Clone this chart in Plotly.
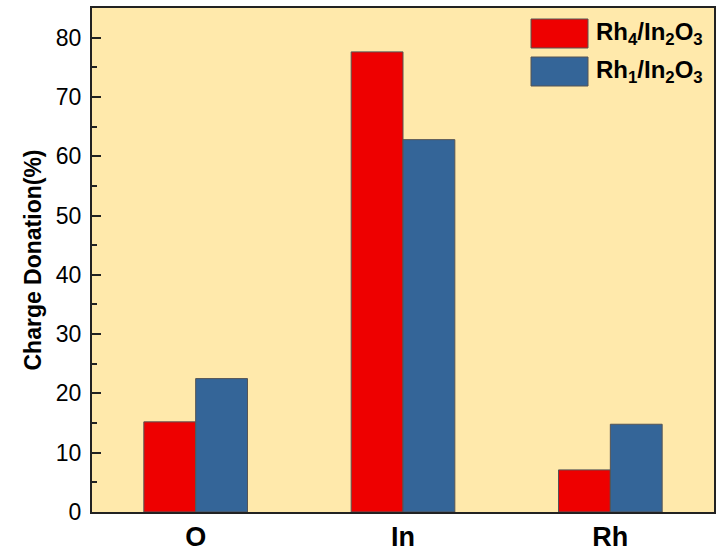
import plotly.graph_objects as go

categories = ["O", "In", "Rh"]
rh4_values = [15.2, 77.6, 7.1]
rh1_values = [22.5, 62.8, 14.8]
series_names = ["Rh<sub>4</sub>/In<sub>2</sub>O<sub>3</sub>", "Rh<sub>1</sub>/In<sub>2</sub>O<sub>3</sub>"]
colors = ["#EE0000", "#346598"]

fig = go.Figure()
for name, vals, c in zip(series_names, [rh4_values, rh1_values], colors):
    fig.add_trace(go.Bar(x=categories, y=vals, name=name, marker_color=c,
                         marker_line=dict(color="#555555", width=1), showlegend=False))

# manual legend (paper coords: plot area x 92..714, y 8..512)
for i, (name, c) in enumerate(zip(series_names, colors)):
    top = 19 + i * 38
    y1 = (512 - top) / 504
    y0 = (512 - top - 29) / 504
    fig.add_shape(type="rect", xref="paper", yref="paper",
                  x0=(531 - 92) / 622, x1=(588 - 92) / 622, y0=y0, y1=y1,
                  fillcolor=c, line=dict(color="#555555", width=1))
    fig.add_annotation(xref="paper", yref="paper", x=(594 - 92) / 622, y=(y0 + y1) / 2,
                       text="<b>" + name + "</b>", showarrow=False,
                       xanchor="left", yanchor="middle",
                       font=dict(size=24, color="black", family="Liberation Sans, Arial"))

fig.update_layout(
    width=716, height=559,
    margin=dict(l=92, r=2, t=8, b=47, autoexpand=False),
    paper_bgcolor="white", plot_bgcolor="#FFE9AB",
    barmode="group", bargap=0.5, bargroupgap=0,
    font=dict(family="Liberation Sans, Arial", color="black"),
)
fig.update_xaxes(range=[-0.5, 2.5], showline=True, linecolor="#222222", linewidth=2,
                 mirror=True, ticks="", showgrid=False, automargin=False,
                 tickfont=dict(size=27, family="Liberation Sans, Arial"),
                 ticktext=["<b>O</b>", "<b>In</b>", "<b>Rh</b>"], tickvals=categories)
fig.update_yaxes(range=[0, 85], showline=True, linecolor="#222222", linewidth=2,
                 mirror=True, ticks="inside", ticklen=9, tickwidth=1.5, tickcolor="#222222",
                 dtick=10, showgrid=False, zeroline=False, automargin=False,
                 minor=dict(ticks="inside", ticklen=5, dtick=5, tickcolor="#222222", tickwidth=1.5),
                 tickfont=dict(size=23), ticklabelstandoff=4,
                 title=dict(text="<b>Charge Donation(%)</b>", font=dict(size=23), standoff=8))

fig.write_html("out.html", post_script="document.body.style.margin='0';",
               config={"displayModeBar": False})
